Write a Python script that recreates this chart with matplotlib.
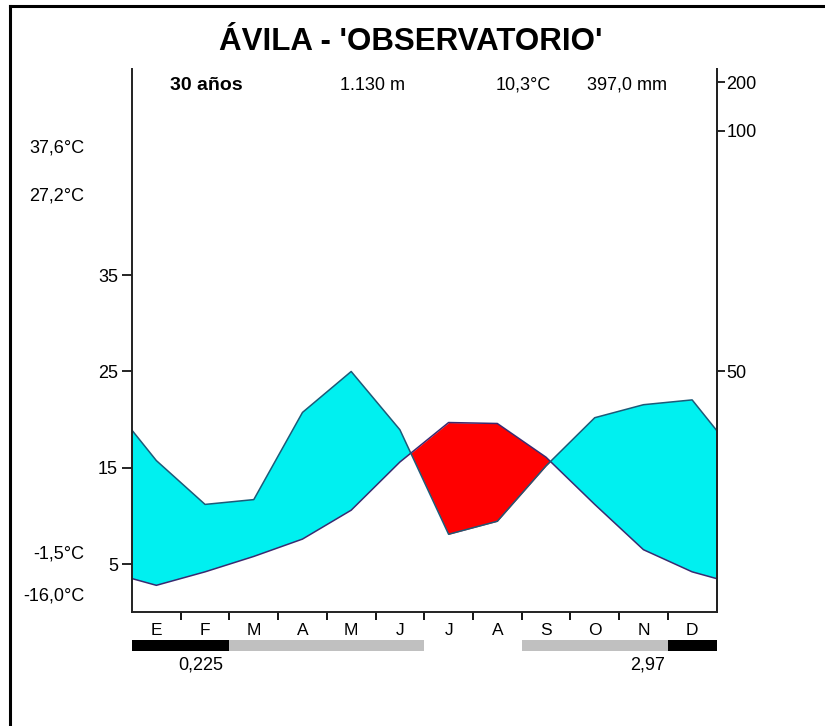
import matplotlib
matplotlib.use('Agg')
import matplotlib.pyplot as plt
import numpy as np
from matplotlib.lines import Line2D

plt.rcParams['font.family'] = ['Liberation Sans', 'DejaVu Sans']

months = ['E', 'F', 'M', 'A', 'M', 'J', 'J', 'A', 'S', 'O', 'N', 'D']
temp = [2.8, 4.2, 5.8, 7.6, 10.6, 15.6, 19.7, 19.6, 16.1, 11.2, 6.5, 4.2]
precip = [31.5, 22.4, 23.4, 41.5, 50.0, 37.9, 16.2, 18.9, 30.4, 40.4, 43.1, 44.1]
# 2 = certain frost (black), 1 = probable frost (grey), 0 = none
frost = [2, 2, 1, 1, 1, 1, 0, 0, 1, 1, 1, 2]

left_ticks = [5, 15, 25, 35]
precip_ticks = [50, 100, 200]
left_notes = ['37,6°C', '27,2°C', '-1,5°C', '-16,0°C']
note_y = [148, 196, 554, 596]

W, H = 825, 726
FS = 13


def px(x, y):
    return x / W, 1 - y / H


def precip_scale(p):
    p = np.asarray(p, dtype=float)
    return np.where(p <= 100, p / 2.0, 50 + (p - 100) / 20.0)


fig = plt.figure(figsize=(W / 100, H / 100), dpi=100)
l, b = px(132, 612.3)
r, t = px(716.5, 69)
ax = fig.add_axes([l, b, r - l, t - b])

# wrap december / january round the edges
x = np.arange(-0.5, 13.0, 1.0)
t_ext = np.array([temp[-1]] + temp + [temp[0]])
p_ext = precip_scale([precip[-1]] + precip + [precip[0]])

ax.fill_between(x, t_ext, p_ext, where=p_ext >= t_ext, interpolate=True,
                color='#00f0f0', lw=0)
ax.fill_between(x, t_ext, p_ext, where=t_ext >= p_ext, interpolate=True,
                color='#ff0000', lw=0)
ax.plot(x, t_ext, color='#3a2a70', lw=1.1)
ax.plot(x, p_ext, color='#1d5a78', lw=1.1)

ax.set_xlim(0, 12)
ax.set_ylim(0, 56.4)
ax.spines['top'].set_visible(False)
for s in ['left', 'bottom', 'right']:
    ax.spines[s].set_linewidth(1.4)
    ax.spines[s].set_color('#222222')

ax.set_yticks(left_ticks)
ax.set_yticklabels([str(v) for v in left_ticks], fontsize=FS)
ax.tick_params(axis='y', length=7, width=1.2, pad=3)

ax.set_xticks(np.arange(1, 12))
ax.set_xticklabels([])
ax.set_xticks(np.arange(12) + 0.5, minor=True)
ax.set_xticklabels(months, minor=True, fontsize=12.5)
ax.tick_params(axis='x', which='major', length=6, width=1.3)
ax.tick_params(axis='x', which='minor', length=0, pad=8)

ax2 = ax.twinx()
ax2.set_ylim(ax.get_ylim())
ax2.set_yticks(precip_scale(precip_ticks))
ax2.set_yticklabels([str(v) for v in precip_ticks], fontsize=FS)
ax2.tick_params(axis='y', length=6, width=1.2, pad=1)
for s in ['top', 'left', 'bottom']:
    ax2.spines[s].set_visible(False)
ax2.spines['right'].set_linewidth(1.4)
ax2.spines['right'].set_color('#222222')

# frost bar under the months
fb_l, fb_b = px(132, 650.7)
fb_r, fb_t = px(716.5, 640)
axf = fig.add_axes([fb_l, fb_b, fb_r - fb_l, fb_t - fb_b])
frost_colors = {0: 'none', 1: '#c0c0c0', 2: '#000000'}
axf.bar(np.arange(12) + 0.5, [1] * 12, width=1.0,
        color=[frost_colors[f] for f in frost], lw=0)
axf.set_xlim(0, 12)
axf.set_ylim(0, 1)
axf.axis('off')

# texts
fig.text(*px(411, 42), "ÁVILA - 'OBSERVATORIO'", fontsize=22.5, fontweight='bold',
         ha='center', va='center')
fig.text(*px(206, 85), '30 años', fontsize=14, fontweight='bold', ha='center', va='center')
fig.text(*px(372, 85), '1.130 m', fontsize=FS, ha='center', va='center')
fig.text(*px(523, 85), '10,3°C', fontsize=FS, ha='center', va='center')
fig.text(*px(627, 85), '397,0 mm', fontsize=FS, ha='center', va='center')
for note, ny in zip(left_notes, note_y):
    fig.text(*px(84, ny), note, fontsize=FS, ha='right', va='center')
fig.text(*px(201, 665), '0,225', fontsize=FS, ha='center', va='center')
fig.text(*px(648, 665), '2,97', fontsize=FS, ha='center', va='center')

# outer frame (only top and left visible)
fig.add_artist(Line2D([10 / W, 1], [1 - 6 / H, 1 - 6 / H], color='black', lw=2.2,
                      transform=fig.transFigure))
fig.add_artist(Line2D([10 / W, 10 / W], [0, 1 - 6 / H], color='black', lw=2.2,
                      transform=fig.transFigure))

fig.savefig('out.png', dpi=100)
